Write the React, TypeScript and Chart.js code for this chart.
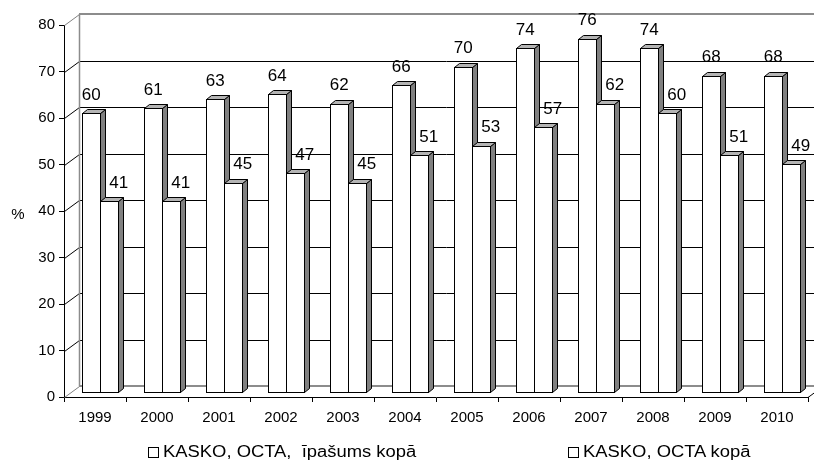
import React, { useEffect, useRef } from "react";
import { Chart, registerables } from "chart.js";

Chart.register(...registerables);

// ---- data ----
const years = ["1999", "2000", "2001", "2002", "2003", "2004", "2005", "2006", "2007", "2008", "2009", "2010"];
const seriesNames = ["KASKO, OCTA,  īpašums kopā", "KASKO, OCTA kopā"];
const kaskoOctaProperty = [60, 61, 63, 64, 62, 66, 70, 74, 76, 74, 68, 68];
const kaskoOcta = [41, 41, 45, 47, 45, 51, 53, 57, 62, 60, 51, 49];
const yMin = 0;
const yMax = 80;
const yStep = 10;
const yTitle = "%";

// ---- style ----
const FONT = "'Liberation Sans', Arial, Helvetica, sans-serif";
const PLANE = { dx: 5, dy: -5 }; // bar plane offset from the front axes
const BACK = { dx: 15, dy: -11 }; // back wall offset
const DEPTH = { dx: 5, dy: -4 }; // depth of each bar
const LABEL_RISE = 18;
const LABEL_SHIFT = [0, 10];

function drawBox(ctx: CanvasRenderingContext2D, x: number, top: number, base: number, width: number) {
  const L = Math.round(x - width / 2) + 0.5;
  const R = Math.round(x + width / 2) + 0.5;
  const T = Math.round(top) + 0.5;
  const B = Math.round(base) + 0.5;
  ctx.lineWidth = 1;
  ctx.strokeStyle = "#000";
  ctx.lineJoin = "miter";
  // side face
  ctx.beginPath();
  ctx.moveTo(R, T);
  ctx.lineTo(R + DEPTH.dx, T + DEPTH.dy);
  ctx.lineTo(R + DEPTH.dx, B + DEPTH.dy);
  ctx.lineTo(R, B);
  ctx.closePath();
  ctx.fillStyle = "#808080";
  ctx.fill();
  ctx.stroke();
  // top face
  ctx.beginPath();
  ctx.moveTo(L, T);
  ctx.lineTo(L + DEPTH.dx, T + DEPTH.dy);
  ctx.lineTo(R + DEPTH.dx, T + DEPTH.dy);
  ctx.lineTo(R, T);
  ctx.closePath();
  ctx.fillStyle = "#b4b4b4";
  ctx.fill();
  ctx.stroke();
  // front face
  ctx.fillStyle = "#ffffff";
  ctx.fillRect(L, T, R - L, B - T);
  ctx.strokeRect(L, T, R - L, B - T);
}

const excel3d = {
  id: "excel3d",
  beforeDatasetsDraw(chart: any) {
    const { ctx, chartArea, scales } = chart;
    const y = scales.y;
    const left = chartArea.left;
    const right = chartArea.right;
    ctx.save();
    const values: number[] = y.ticks.map((t: any) => t.value);
    for (const v of values) {
      const yf = Math.round(y.getPixelForValue(v));
      const edge = v === yMin || v === yMax;
      // back wall line
      ctx.beginPath();
      if (edge) {
        ctx.strokeStyle = "#8c8c8c";
        ctx.lineWidth = 2;
        ctx.moveTo(left + BACK.dx, yf + BACK.dy);
        ctx.lineTo(chart.width, yf + BACK.dy);
      } else {
        ctx.strokeStyle = "#000";
        ctx.lineWidth = 1;
        ctx.moveTo(left + BACK.dx, yf + BACK.dy + 0.5);
        ctx.lineTo(chart.width, yf + BACK.dy + 0.5);
      }
      ctx.stroke();
      // left wall diagonal
      ctx.beginPath();
      ctx.strokeStyle = edge ? "#808080" : "#000";
      ctx.lineWidth = 1;
      ctx.moveTo(left + 0.5, yf + 0.5);
      ctx.lineTo(left + BACK.dx + 0.5, yf + BACK.dy + 0.5);
      ctx.stroke();
    }
    // back-left vertical edge
    const yTop = Math.round(y.getPixelForValue(yMax)) + BACK.dy;
    const yBot = Math.round(y.getPixelForValue(yMin)) + BACK.dy;
    ctx.beginPath();
    ctx.strokeStyle = "#8c8c8c";
    ctx.lineWidth = 1.5;
    ctx.moveTo(left + BACK.dx + 0.5, yTop);
    ctx.lineTo(left + BACK.dx + 0.5, yBot);
    ctx.stroke();
    // right floor edge
    const y0 = Math.round(y.getPixelForValue(yMin));
    ctx.beginPath();
    ctx.strokeStyle = "#000";
    ctx.lineWidth = 1;
    ctx.moveTo(right, y0 + 0.5);
    ctx.lineTo(right + BACK.dx, y0 + BACK.dy + 0.5);
    ctx.stroke();
    ctx.restore();

    ctx.save();
    ctx.translate(PLANE.dx, PLANE.dy);
  },
  afterDatasetsDraw(chart: any) {
    const { ctx } = chart;
    const metas = chart.data.datasets.map((_: any, i: number) => chart.getDatasetMeta(i));
    const n = chart.data.labels.length;
    for (let i = 0; i < n; i++) {
      for (const m of metas) {
        const el = m.data[i];
        const p = el.getProps(["x", "y", "base", "width"], true);
        drawBox(ctx, p.x, p.y, p.base, p.width);
      }
    }
    ctx.restore();

    // data labels
    ctx.save();
    ctx.fillStyle = "#000";
    ctx.font = `17px ${FONT}`;
    ctx.textAlign = "center";
    ctx.textBaseline = "middle";
    metas.forEach((m: any, di: number) => {
      const data = chart.data.datasets[di].data;
      m.data.forEach((el: any, i: number) => {
        const p = el.getProps(["x", "y"], true);
        ctx.fillText(String(data[i]), p.x + PLANE.dx + LABEL_SHIFT[di], p.y + PLANE.dy - LABEL_RISE);
      });
    });
    // y title
    const y = chart.scales.y;
    ctx.font = `15px ${FONT}`;
    ctx.fillText(yTitle, 18, y.getPixelForValue((yMin + yMax) / 2) + 4);
    ctx.restore();
  },
};

export default function App() {
  const ref = useRef<HTMLCanvasElement | null>(null);

  useEffect(() => {
    document.body.style.margin = "0";
    const canvas = ref.current;
    if (!canvas) return;
    const chart = new Chart(canvas, {
      type: "bar",
      data: {
        labels: years,
        datasets: [
          {
            label: seriesNames[0],
            data: kaskoOctaProperty,
            backgroundColor: "#ffffff",
            borderColor: "#000000",
            borderWidth: 1,
            borderSkipped: false,
            categoryPercentage: 0.565,
            barPercentage: 1,
            clip: false,
          } as any,
          {
            label: seriesNames[1],
            data: kaskoOcta,
            backgroundColor: "#ffffff",
            borderColor: "#000000",
            borderWidth: 1,
            borderSkipped: false,
            categoryPercentage: 0.565,
            barPercentage: 1,
            clip: false,
          } as any,
        ],
      },
      options: {
        responsive: false,
        devicePixelRatio: 1,
        animation: false,
        layout: { padding: { left: 0, right: 6, top: 25, bottom: 0 } },
        plugins: {
          legend: { display: false },
          tooltip: { enabled: false },
        },
        scales: {
          x: {
            offset: true,
            grid: { display: true, drawOnChartArea: false, offset: true, tickLength: 5, color: "#000" },
            border: { display: true, color: "#000", width: 1 },
            ticks: { color: "#000", font: { family: FONT, size: 15 }, padding: 7, maxRotation: 0 },
            afterFit: (s: any) => {
              s.height = 64;
            },
          },
          y: {
            min: yMin,
            max: yMax,
            grid: { display: true, drawOnChartArea: false, tickLength: 5, color: "#000" },
            border: { display: true, color: "#000", width: 1 },
            ticks: { stepSize: yStep, color: "#000", font: { family: FONT, size: 15 }, padding: 4 },
            afterFit: (s: any) => {
              s.width = 64;
            },
          },
        },
      },
      plugins: [excel3d as any],
    });
    return () => chart.destroy();
  }, []);

  const textStyle: React.CSSProperties = {
    position: "absolute",
    top: 443,
    fontFamily: FONT,
    fontSize: 16,
    lineHeight: "18px",
    whiteSpace: "pre",
    color: "#000",
    transform: "scaleX(1.15)",
    transformOrigin: "left center",
  };
  const boxStyle: React.CSSProperties = {
    position: "absolute",
    top: 447,
    width: 11,
    height: 11,
    boxSizing: "border-box",
    border: "1px solid #000",
    background: "#fff",
  };

  return (
    <div style={{ position: "relative", width: 814, height: 461, background: "#fff", overflow: "hidden" }}>
      <canvas ref={ref} width={814} height={461} style={{ display: "block", width: 814, height: 461 }} />
      <div style={{ ...boxStyle, left: 148 }} />
      <div style={{ ...textStyle, left: 163 }}>{seriesNames[0]}</div>
      <div style={{ ...boxStyle, left: 568 }} />
      <div style={{ ...textStyle, left: 583 }}>{seriesNames[1]}</div>
    </div>
  );
}
